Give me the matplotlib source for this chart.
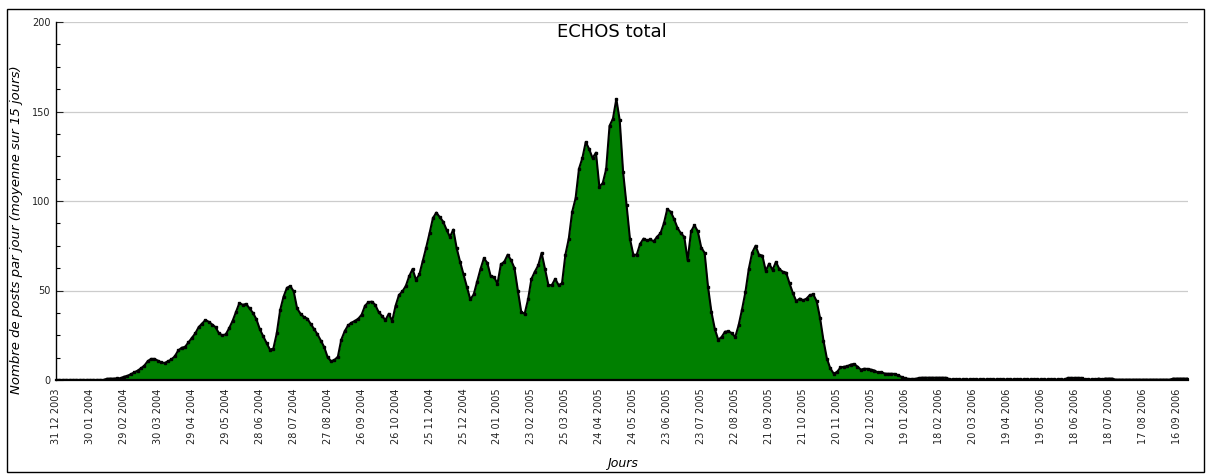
import datetime as dt

import matplotlib
matplotlib.use("Agg")
import matplotlib.pyplot as plt
import numpy as np
from matplotlib.patches import Rectangle
from matplotlib.ticker import MultipleLocator


# =============================
# Data (one value every 3 days)
# =============================

START = dt.date(2003, 12, 31)
STEP_DAYS = 3

posts = [
    0, 0, 0, 0, 0, 0, 0, 0, 0, 0,                                   # 31 12 2003
    0, 0, 0, 0, 0, 0.7, 0.8, 0.8, 0.9, 1.0,                         # 30 01 2004
    1.8, 2.3, 3.2, 4.2, 5.2, 6.5, 8.0, 10.5, 11.8, 11.8,            # 29 02 2004
    10.8, 9.8, 9.5, 10.5, 11.5, 13.3, 16.5, 18.0, 18.5, 21.0,       # 30 03 2004
    23.5, 26.0, 29.5, 31.5, 33.5, 32.5, 31.0, 29.5, 26.0, 25.0,     # 29 04 2004
    25.5, 29.0, 33.0, 38.0, 43.0, 42.0, 42.5, 40.0, 37.5, 34.0,     # 29 05 2004
    28.5, 24.5, 20.8, 17.0, 17.5, 26.0, 39.0, 46.5, 51.5, 52.5,     # 28 06 2004
    49.5, 40.0, 37.0, 35.2, 34.3, 31.3, 28.5, 25.5, 22.0, 18.3,     # 28 07 2004
    12.7, 10.5, 11.2, 13.0, 22.5, 27.2, 30.5, 32.0, 33.0, 34.2,     # 27 08 2004
    36.5, 41.5, 43.5, 43.8, 42.0, 38.0, 35.8, 33.5, 37.0, 33.0,     # 26 09 2004
    41.5, 47.5, 49.5, 52.5, 58.0, 62.0, 56.0, 59.0, 66.5, 74.0,     # 26 10 2004
    82.0, 90.5, 93.5, 91.0, 88.5, 84.0, 80.0, 84.0, 73.5, 66.0,     # 25 11 2004
    59.0, 52.0, 45.0, 47.8, 55.0, 62.0, 68.0, 65.5, 58.0, 57.5,     # 25 12 2004
    53.8, 64.6, 66.0, 70.0, 67.0, 62.5, 50.0, 38.0, 37.0, 45.0,     # 24 01 2005
    56.5, 60.5, 64.0, 71.0, 62.0, 53.0, 53.0, 56.5, 53.0, 54.0,     # 23 02 2005
    70.0, 79.0, 94.0, 101.5, 118.0, 124.0, 133.0, 129.0, 124.0, 127.0,  # 25 03 2005
    108.0, 110.0, 117.8, 142.0, 146.0, 157.0, 145.0, 116.0, 98.0, 79.0,  # 24 04 2005
    70.0, 70.0, 76.0, 79.0, 78.0, 78.5, 77.5, 80.0, 82.0, 87.5,     # 24 05 2005
    95.5, 94.0, 90.0, 85.0, 82.0, 80.0, 67.0, 83.0, 86.5, 83.0,     # 23 06 2005
    74.0, 71.0, 52.0, 38.0, 28.5, 22.5, 24.0, 27.0, 27.2, 26.2,     # 23 07 2005
    24.0, 30.5, 39.3, 49.0, 62.0, 71.2, 75.0, 70.0, 69.5, 61.0,     # 22 08 2005
    65.0, 61.5, 66.0, 62.0, 60.5, 60.0, 54.0, 48.5, 44.0, 45.5,     # 21 09 2005
    44.5, 45.5, 47.5, 47.8, 44.0, 34.5, 22.0, 12.0, 6.5, 3.6,       # 21 10 2005
    4.5, 7.0, 7.4, 7.7, 8.6, 9.0, 7.5, 5.8, 6.3, 6.2,               # 20 11 2005
    5.8, 5.3, 4.2, 4.5, 3.6, 3.5, 3.5, 3.4, 2.6, 1.7,               # 20 12 2005
    1.0, 0.6, 0.6, 0.6, 1.1, 1.3, 1.3, 1.3, 1.3, 1.3,               # 19 01 2006
    1.3, 1.3, 1.3, 0.5, 0.3, 0.3, 0.3, 0.3, 0.3, 0.3,               # 18 02 2006
    0.3, 0.3, 0.3, 0.3, 0.3, 0.3, 0.3, 0.3, 0.3, 0.3,               # 20 03 2006
    0.3, 0.3, 0.3, 0.3, 0.3, 0.3, 0.3, 0.3, 0.3, 0.3,               # 19 04 2006
    0.3, 0.3, 0.3, 0.3, 0.3, 0.3, 0.3, 0.3, 1.2, 1.2,               # 19 05 2006
    1.2, 1.2, 1.2, 0.3, 0.3, 0.3, 0.3, 0.8, 0.3, 0.8,               # 18 06 2006
    0.8, 0.8, 0.2, 0.2, 0.2, 0.2, 0.2, 0.2, 0.2, 0.2,               # 18 07 2006
    0.2, 0.2, 0.2, 0.2, 0.2, 0.2, 0.2, 0.2, 0.2, 0.8,               # 17 08 2006
    0.8, 0.8, 0.8, 0.8,                                             # 16 09 2006
]

tick_days = list(range(0, 991, 30))
tick_labels = [(START + dt.timedelta(days=d)).strftime("%d %m %Y") for d in tick_days]
y_ticks = [0, 50, 100, 150, 200]

TITLE = "ECHOS total"
Y_LABEL = "Nombre de posts par jour (moyenne sur 15 jours)"
X_LABEL = "Jours"


def main() -> None:
    W, H = 1213, 475
    fig = plt.figure(figsize=(W / 100, H / 100), dpi=100)
    ax = fig.add_axes([56 / W, 95 / H, 1132 / W, 358 / H])

    days = np.arange(len(posts)) * STEP_DAYS
    vals = np.array(posts, dtype=float)

    ax.fill_between(days, 0, vals, color="#008000", linewidth=0, zorder=2)
    ax.plot(days, vals, color="black", linewidth=1.5, zorder=3)
    ax.plot(days, vals, linestyle="none", marker="s", markersize=2.0,
            color="black", zorder=4)

    ax.set_xlim(0, 1000)
    ax.set_ylim(0, 200)

    ax.set_yticks(y_ticks)
    ax.yaxis.set_minor_locator(MultipleLocator(12.5))
    ax.tick_params(axis="y", which="major", direction="in", length=5, width=0.8,
                   labelsize=7, pad=4, colors="#222222")
    ax.tick_params(axis="y", which="minor", direction="in", length=3, width=0.8)
    ax.set_xticks(tick_days)
    ax.set_xticklabels(tick_labels, rotation=90, fontsize=7, color="#222222")
    ax.tick_params(axis="x", length=0, pad=6)

    ax.grid(axis="y", color="#cccccc", linewidth=0.9, zorder=0)
    ax.set_axisbelow(True)
    for side in ("top", "right"):
        ax.spines[side].set_visible(False)
    ax.spines["left"].set_linewidth(1.0)
    ax.spines["bottom"].set_linewidth(1.6)
    ax.spines["bottom"].set_zorder(5)

    fig.text(612 / W, 1 - 32 / H, TITLE, ha="center", va="center", fontsize=13)
    fig.text(17 / W, 1 - 230 / H, Y_LABEL, rotation=90, ha="center", va="center",
             fontsize=9.5, style="italic")
    fig.text(622 / W, 1 - 463 / H, X_LABEL, ha="center", va="center",
             fontsize=9, style="italic")

    border = Rectangle((7 / W, 3 / H), 1197 / W, 463 / H, transform=fig.transFigure,
                       fill=False, edgecolor="black", linewidth=1.0)
    fig.patches.append(border)

    fig.savefig("out.png", dpi=100)


if __name__ == "__main__":
    main()
